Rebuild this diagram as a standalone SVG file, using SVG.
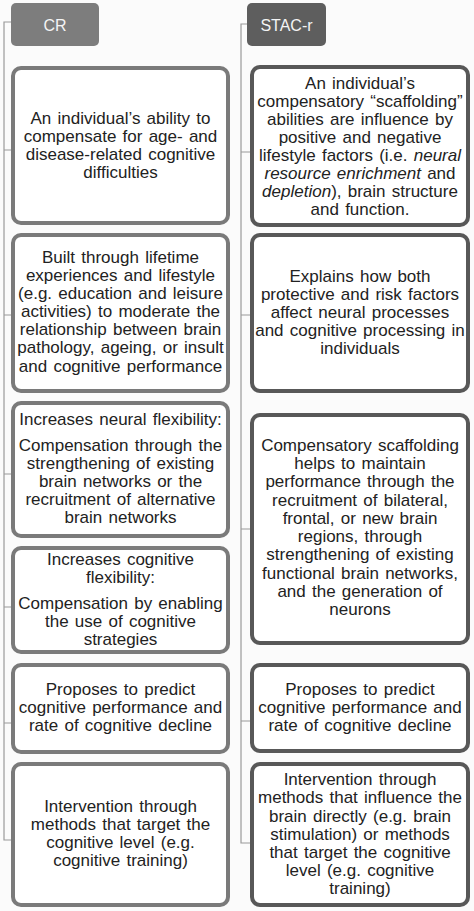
<svg xmlns="http://www.w3.org/2000/svg" width="474" height="911" viewBox="0 0 474 911">
<style>
.bg{fill:#fbfbfb}
.hdrL{fill:#7d7d7d}
.hdrR{fill:#5e5e5e}
.hdrt{font-family:"Liberation Sans",Arial,sans-serif;font-size:16px;fill:#f4f4f4;text-anchor:middle}
.boxL{fill:#ffffff;stroke:#7a7a7a;stroke-width:4}
.boxR{fill:#ffffff;stroke:#585858;stroke-width:4}
.t{font-family:"Liberation Sans",Arial,sans-serif;font-size:17px;fill:#222222;text-anchor:middle;word-spacing:1.5px}
.conn{fill:none;stroke:#9a9a9a;stroke-width:1.2}
</style>
<rect class="bg" x="0" y="0" width="474" height="911"/>
<g id="connectors">
<path class="conn" d="M11,22 H4 V840 H13 M4,150 H13 M4,315 H13 M4,474 H13 M4,607 H13 M4,723 H13"/>
<path class="conn" d="M247,24 H241 V843 H252 M241,152 H252 M241,315 H252 M241,529 H252 M241,721 H252"/>
</g>
<g id="hdr-cr">
<rect class="hdrL" x="11" y="3" width="88" height="43" rx="5"/>
<text class="hdrt" x="55" y="31">CR</text>
</g>
<g id="hdr-stac">
<rect class="hdrR" x="247" y="3" width="79" height="43" rx="5"/>
<text class="hdrt" x="286.5" y="31">STAC-r</text>
</g>
<g id="cr1">
<rect class="boxL" x="13" y="68" width="215" height="155" rx="8"/>
<text class="t"><tspan x="120.5" y="124">An individual’s ability to</tspan><tspan x="120.5" y="142">compensate for age- and</tspan><tspan x="120.5" y="160">disease-related cognitive</tspan><tspan x="120.5" y="178">difficulties</tspan></text>
</g>
<g id="cr2">
<rect class="boxL" x="13" y="235" width="215" height="156" rx="8"/>
<text class="t"><tspan x="120.5" y="263">Built through lifetime</tspan><tspan x="120.5" y="281">experiences and lifestyle</tspan><tspan x="120.5" y="299">(e.g. education and leisure</tspan><tspan x="120.5" y="317">activities) to moderate the</tspan><tspan x="120.5" y="335">relationship between brain</tspan><tspan x="120.5" y="353">pathology, ageing, or insult</tspan><tspan x="120.5" y="372">and cognitive performance</tspan></text>
</g>
<g id="cr3">
<rect class="boxL" x="13" y="403" width="215" height="133" rx="8"/>
<text class="t"><tspan x="120.5" y="425">Increases neural flexibility:</tspan><tspan x="120.5" y="451">Compensation through the</tspan><tspan x="120.5" y="469">strengthening of existing</tspan><tspan x="120.5" y="487">brain networks or the</tspan><tspan x="120.5" y="505">recruitment of alternative</tspan><tspan x="120.5" y="523">brain networks</tspan></text>
</g>
<g id="cr4">
<rect class="boxL" x="13" y="548" width="215" height="104" rx="8"/>
<text class="t"><tspan x="120.5" y="565">Increases cognitive</tspan><tspan x="120.5" y="583">flexibility:</tspan><tspan x="120.5" y="609">Compensation by enabling</tspan><tspan x="120.5" y="627">the use of cognitive</tspan><tspan x="120.5" y="645">strategies</tspan></text>
</g>
<g id="cr5">
<rect class="boxL" x="13" y="665" width="215" height="87" rx="8"/>
<text class="t"><tspan x="120.5" y="695">Proposes to predict</tspan><tspan x="120.5" y="713">cognitive performance and</tspan><tspan x="120.5" y="731">rate of cognitive decline</tspan></text>
</g>
<g id="cr6">
<rect class="boxL" x="13" y="764" width="215" height="141" rx="8"/>
<text class="t"><tspan x="120.5" y="812">Intervention through</tspan><tspan x="120.5" y="830">methods that target the</tspan><tspan x="120.5" y="848">cognitive level (e.g.</tspan><tspan x="120.5" y="866">cognitive training)</tspan></text>
</g>
<g id="st1">
<rect class="boxR" x="252" y="67" width="216" height="158" rx="8"/>
<text class="t"><tspan x="360" y="89">An individual’s</tspan><tspan x="360" y="107">compensatory “scaffolding”</tspan><tspan x="360" y="125">abilities are influence by</tspan><tspan x="360" y="143">positive and negative</tspan><tspan x="360" y="161">lifestyle factors (i.e. <tspan font-style="italic">neural</tspan></tspan><tspan x="360" y="179"><tspan font-style="italic">resource enrichment</tspan> and</tspan><tspan x="360" y="197"><tspan font-style="italic">depletion</tspan>), brain structure</tspan><tspan x="360" y="215">and function.</tspan></text>
</g>
<g id="st2">
<rect class="boxR" x="252" y="235" width="216" height="156" rx="8"/>
<text class="t"><tspan x="360" y="282">Explains how both</tspan><tspan x="360" y="300">protective and risk factors</tspan><tspan x="360" y="318">affect neural processes</tspan><tspan x="360" y="336">and cognitive processing in</tspan><tspan x="360" y="354">individuals</tspan></text>
</g>
<g id="st3">
<rect class="boxR" x="252" y="415" width="216" height="228" rx="8"/>
<text class="t"><tspan x="360" y="451">Compensatory scaffolding</tspan><tspan x="360" y="469">helps to maintain</tspan><tspan x="360" y="487">performance through the</tspan><tspan x="360" y="505.5">recruitment of bilateral,</tspan><tspan x="360" y="524">frontal, or new brain</tspan><tspan x="360" y="542">regions, through</tspan><tspan x="360" y="560">strengthening of existing</tspan><tspan x="360" y="578.5">functional brain networks,</tspan><tspan x="360" y="596.5">and the generation of</tspan><tspan x="360" y="615">neurons</tspan></text>
</g>
<g id="st4">
<rect class="boxR" x="252" y="665" width="216" height="86" rx="8"/>
<text class="t"><tspan x="360" y="695">Proposes to predict</tspan><tspan x="360" y="713">cognitive performance and</tspan><tspan x="360" y="731">rate of cognitive decline</tspan></text>
</g>
<g id="st5">
<rect class="boxR" x="252" y="764" width="216" height="141" rx="8"/>
<text class="t"><tspan x="360" y="785">Intervention through</tspan><tspan x="360" y="803">methods that influence the</tspan><tspan x="360" y="821.5">brain directly (e.g. brain</tspan><tspan x="360" y="840">stimulation) or methods</tspan><tspan x="360" y="858">that target the cognitive</tspan><tspan x="360" y="876">level (e.g. cognitive</tspan><tspan x="360" y="894">training)</tspan></text>
</g>
</svg>
